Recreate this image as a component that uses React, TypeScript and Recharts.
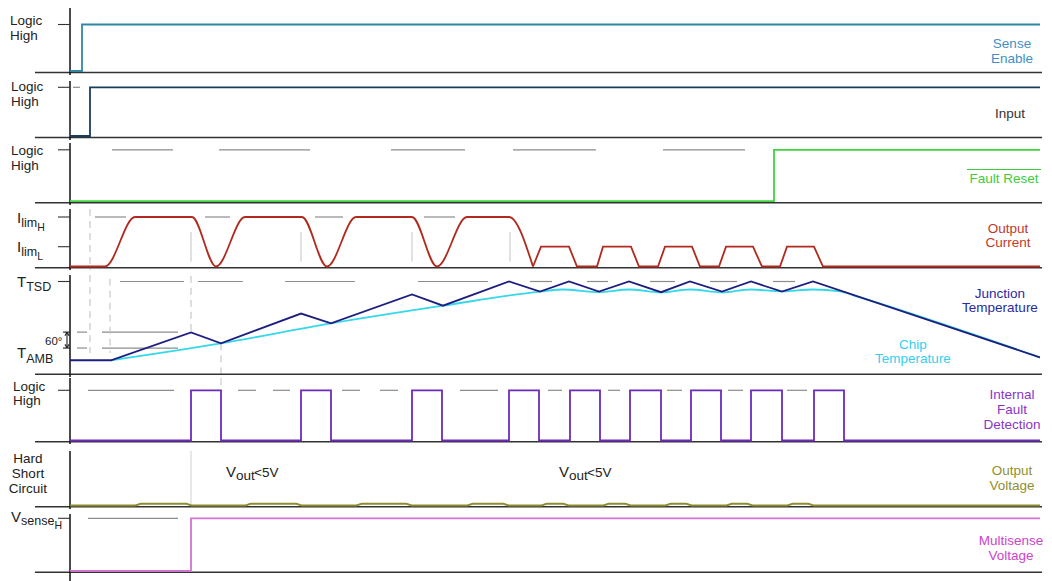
import React from 'react';
import { LineChart, Line, XAxis, YAxis, ReferenceLine } from 'recharts';

// ---------- data (time axis: t units, 0 = switch-on) ----------
const senseEnable = [{ t: 0, v: 0 }, { t: 12, v: 0 }, { t: 12, v: 1 }, { t: 970, v: 1 }];
const inputSig = [{ t: 0, v: 0 }, { t: 20, v: 0 }, { t: 20, v: 1 }, { t: 970, v: 1 }];
const faultReset = [{ t: 0, v: 0 }, { t: 704, v: 0 }, { t: 704, v: 1 }, { t: 970, v: 1 }];

const ILIM_H = 1;
const ILIM_L = 0.4;
const currentLimitH = [
  { t: 0, v: 0 }, { t: 35, v: 0 }, { t: 65, v: 1 }, { t: 122, v: 1 }, { t: 146, v: 0 },
  { t: 175, v: 1 }, { t: 232, v: 1 }, { t: 257, v: 0 }, { t: 286, v: 1 }, { t: 342, v: 1 },
  { t: 367, v: 0 }, { t: 397, v: 1 }, { t: 439, v: 1 }, { t: 463, v: 0 },
];
const currentLimitL = [
  { t: 463, v: 0 }, { t: 471, v: 0.4 }, { t: 499, v: 0.4 }, { t: 507, v: 0 }, { t: 527, v: 0 },
  { t: 533, v: 0.4 }, { t: 561, v: 0.4 }, { t: 569, v: 0 }, { t: 588, v: 0 }, { t: 595, v: 0.4 },
  { t: 622, v: 0.4 }, { t: 630, v: 0 }, { t: 649, v: 0 }, { t: 656, v: 0.4 }, { t: 683, v: 0.4 },
  { t: 692, v: 0 }, { t: 710, v: 0 }, { t: 717, v: 0.4 }, { t: 744, v: 0.4 }, { t: 753, v: 0 },
  { t: 970, v: 0 },
];

const T_TSD = 165;
const T_AMB = 25;
const junctionTemp = [
  { t: 0, v: 25 }, { t: 41, v: 25 }, { t: 121, v: 74.5 }, { t: 151, v: 55 }, { t: 231, v: 108 },
  { t: 261, v: 90.5 }, { t: 342, v: 142 }, { t: 373, v: 122 }, { t: 439, v: 165 }, { t: 470, v: 147 },
  { t: 499, v: 165 }, { t: 529, v: 147 }, { t: 559, v: 165 }, { t: 591, v: 146 }, { t: 620, v: 165 },
  { t: 652, v: 147 }, { t: 681, v: 165 }, { t: 712, v: 147 }, { t: 743, v: 165 }, { t: 970, v: 30 },
];
const chipTemp = [
  { t: 41, v: 25 }, { t: 151, v: 55 }, { t: 261, v: 90.5 }, { t: 373, v: 122 }, { t: 470, v: 147 },
  { t: 493, v: 150.8 }, { t: 529, v: 146 }, { t: 559, v: 150.8 }, { t: 591, v: 145.5 }, { t: 620, v: 150.8 },
  { t: 652, v: 145.5 }, { t: 681, v: 150.8 }, { t: 712, v: 147.3 }, { t: 743, v: 150.8 }, { t: 770, v: 147.3 },
  { t: 790, v: 136.6 }, { t: 970, v: 30 },
];

const faultRise = [121, 231, 342, 439, 500, 560, 621, 681, 744];
const faultFall = [151, 261, 372, 469, 530, 591, 651, 712, 774];

const VOUT_SHORT = 0.035;
const voutStart = [65, 175, 286, 397, 471, 533, 595, 656, 717];
const voutEnd = [122, 232, 342, 439, 499, 561, 622, 683, 744];

const multisense = [{ t: 0, v: 0 }, { t: 121, v: 0 }, { t: 121, v: 1 }, { t: 970, v: 1 }];

// tables built from the arrays above
const faultDetection = (() => {
  const out = [{ t: 0, v: 0 }];
  faultRise.forEach((r, i) => {
    out.push({ t: r, v: 0 }, { t: r, v: 1 }, { t: faultFall[i], v: 1 }, { t: faultFall[i], v: 0 });
  });
  out.push({ t: 970, v: 0 });
  return out;
})();
const outputVoltage = (() => {
  const out = [{ t: 0, v: 0 }];
  voutStart.forEach((s, i) => {
    const e = voutEnd[i];
    out.push({ t: s, v: 0 }, { t: s + 6, v: VOUT_SHORT }, { t: e - 6, v: VOUT_SHORT }, { t: e, v: 0 });
  });
  out.push({ t: 970, v: 0 });
  return out;
})();

// ---------- layout ----------
const W = 1052;
const T_MIN = -70;
const T_MAX = 970;
const FONT = '"Liberation Sans", Arial, Helvetica, sans-serif';
const FS = 13.5;
const GRAY = '#8c8c8c';

type Cfg = { top: number; bottom: number; zeroPx: number; highPx: number; highVal: number; blackPx: number };
type Guide = { x: number; y1: number; y2: number; dashed?: boolean; color?: string };
type Dash = { y: number; segs: number[][] };

const P: Record<string, Cfg> = {
  se: { top: 8, bottom: 75, zeroPx: 71, highPx: 24.5, highVal: 1, blackPx: 72.5 },
  inp: { top: 81, bottom: 140, zeroPx: 136, highPx: 87.3, highVal: 1, blackPx: 137.5 },
  fr: { top: 143, bottom: 205, zeroPx: 201.2, highPx: 149.8, highVal: 1, blackPx: 202.7 },
  oc: { top: 209, bottom: 270, zeroPx: 266.5, highPx: 217, highVal: ILIM_H, blackPx: 267.8 },
  tj: { top: 275, bottom: 377, zeroPx: 374.3, highPx: 281.5, highVal: T_TSD, blackPx: 374.3 },
  fd: { top: 378, bottom: 444, zeroPx: 440.5, highPx: 390.3, highVal: 1, blackPx: 441.8 },
  ov: { top: 451, bottom: 509, zeroPx: 505.5, highPx: 455.5, highVal: 1, blackPx: 506.8 },
  ms: { top: 514, bottom: 581, zeroPx: 570.8, highPx: 518.3, highVal: 1, blackPx: 572.3 },
};

function Panel({ cfg, ticks, dashes = [], guides = [], extra = [], children }: {
  cfg: Cfg; ticks: number[]; dashes?: Dash[]; guides?: Guide[]; extra?: { a: number[]; b: number[]; color?: string }[]; children?: React.ReactNode;
}) {
  const k = cfg.highVal / (cfg.zeroPx - cfg.highPx);
  const lo = -(cfg.bottom - cfg.zeroPx) * k;
  const hi = (cfg.zeroPx - cfg.top) * k;
  const base = -(cfg.blackPx - cfg.zeroPx) * k;
  const clamp = (y: number) => Math.max(lo, Math.min(hi, y));
  const els: React.ReactNode[] = [];
  dashes.forEach((d, i) =>
    d.segs.forEach(([a, b], j) =>
      els.push(
        <ReferenceLine key={`d${i}-${j}`} segment={[{ x: a, y: d.y }, { x: b, y: d.y }]} stroke={GRAY} strokeWidth={1.2} ifOverflow="visible" />,
      ),
    ),
  );
  guides.forEach((g, i) =>
    els.push(
      <ReferenceLine key={`g${i}`} segment={[{ x: g.x, y: clamp(g.y1) }, { x: g.x, y: clamp(g.y2) }]} stroke={g.color || '#c4c4c4'} strokeWidth={1} strokeDasharray={g.dashed ? '7 5' : undefined} ifOverflow="visible" />,
    ),
  );
  extra.forEach((e, i) =>
    els.push(
      <ReferenceLine key={`e${i}`} segment={[{ x: e.a[0], y: e.a[1] }, { x: e.b[0], y: e.b[1] }]} stroke={e.color || '#222'} strokeWidth={1.1} ifOverflow="visible" />,
    ),
  );
  els.push(<ReferenceLine key="base" segment={[{ x: -35, y: base }, { x: 972, y: base }]} stroke="#333" strokeWidth={1.6} ifOverflow="visible" />);
  els.push(<ReferenceLine key="axis" segment={[{ x: 0, y: lo }, { x: 0, y: hi }]} stroke="#111" strokeWidth={1.5} ifOverflow="visible" />);
  ticks.forEach((tv, i) =>
    els.push(<ReferenceLine key={`t${i}`} segment={[{ x: -12, y: tv }, { x: 0, y: tv }]} stroke="#333" strokeWidth={1.1} ifOverflow="visible" />),
  );
  return (
    <div style={{ position: 'absolute', left: 0, top: cfg.top }}>
      <LineChart width={W} height={cfg.bottom - cfg.top} margin={{ top: 0, right: 12, bottom: 0, left: 0 }}>
        <XAxis type="number" dataKey="t" domain={[T_MIN, T_MAX]} hide allowDataOverflow />
        <YAxis type="number" domain={[lo, hi]} hide allowDataOverflow />
        {els}
        {children}
      </LineChart>
    </div>
  );
}

function Txt({ x, y, lines, color = '#222', align = 'left', size = FS, lh = 15, overline = false }: {
  x: number; y: number; lines: string[]; color?: string; align?: 'left' | 'center'; size?: number; lh?: number; overline?: boolean;
}) {
  const style: React.CSSProperties = {
    position: 'absolute', top: y - lh / 2, fontFamily: FONT, fontSize: size, lineHeight: lh + 'px', color,
    whiteSpace: 'nowrap', textAlign: align,
  };
  if (align === 'center') { style.left = x - 100; style.width = 200; } else { style.left = x; }
  return (
    <div style={style}>
      {lines.map((l, i) => (
        <div key={i}>
          {overline ? <span style={{ borderTop: `1.5px solid ${color}`, paddingTop: 1, paddingLeft: 2, paddingRight: 2 }}>{l}</span> : l}
        </div>
      ))}
    </div>
  );
}

function Sub({ x, y, main, sub, subsub, size = 15, sub1 = 12.5, sub2 = 10.5, d1 = 4, d2 = 8 }: {
  x: number; y: number; main: string; sub: string; subsub?: string; size?: number; sub1?: number; sub2?: number; d1?: number; d2?: number;
}) {
  return (
    <div style={{ position: 'absolute', left: x, top: y - 9, fontFamily: FONT, fontSize: size, lineHeight: '17px', color: '#222', whiteSpace: 'nowrap' }}>
      <span>{main}</span>
      <span style={{ fontSize: sub1, position: 'relative', top: d1 }}>{sub}</span>
      {subsub ? <span style={{ fontSize: sub2, position: 'relative', top: d2 }}>{subsub}</span> : null}
    </div>
  );
}

const lineProps = { type: 'linear' as const, dataKey: 'v', dot: false, isAnimationActive: false, strokeWidth: 1.8 };

export default function App() {
  return (
    <div style={{ position: 'fixed', left: 0, top: 0, width: W, height: 581, background: '#fff', overflow: 'hidden' }}>
      <Panel cfg={P.se} ticks={[1]}>
        <Line {...lineProps} data={senseEnable} stroke="#2f88a3" />
      </Panel>
      <Panel cfg={P.inp} ticks={[1]} dashes={[{ y: 1, segs: [[3, 10]] }]}>
        <Line {...lineProps} data={inputSig} stroke="#1b3d5c" />
      </Panel>
      <Panel cfg={P.fr} ticks={[1]} dashes={[{ y: 1, segs: [[42, 103], [149, 240], [321, 395], [443, 526], [593, 675]] }]}>
        <Line {...lineProps} data={faultReset} stroke="#3fd43f" />
      </Panel>
      <Panel
        cfg={P.oc}
        ticks={[ILIM_H, ILIM_L]}
        dashes={[{ y: ILIM_H, segs: [[25, 56], [135, 160], [245, 273], [354, 385]] }]}
        guides={[
          { x: 20, y1: 99, y2: -99, dashed: true, color: '#bdbdbd' },
          { x: 121, y1: 0.7, y2: 0.1 },
          { x: 231, y1: 0.7, y2: 0.1 },
          { x: 342, y1: 0.7, y2: 0.1 },
          { x: 440, y1: 0.7, y2: 0.1 },
        ]}
      >
        <Line {...lineProps} type="monotone" data={currentLimitH} stroke="#b02a1e" />
        <Line {...lineProps} data={currentLimitL} stroke="#b02a1e" />
      </Panel>
      <Panel
        cfg={P.tj}
        ticks={[T_TSD]}
        dashes={[
          { y: T_TSD, segs: [[50, 114], [128, 173], [215, 285], [348, 418], [460, 482], [517, 538], [580, 605], [640, 667], [703, 725]] },
          { y: 75, segs: [[7, 17], [32, 108]] },
          { y: 46.7, segs: [[7, 17], [32, 108]] },
        ]}
        guides={[
          { x: 20, y1: 999, y2: 38, dashed: true, color: '#bdbdbd' },
          { x: 40, y1: 170, y2: 38, dashed: true, color: '#bdbdbd' },
          { x: 121, y1: 175, y2: 75, dashed: true, color: '#bdbdbd' },
          { x: 151, y1: 55, y2: -999, dashed: true, color: '#bdbdbd' },
        ]}
        extra={[
          { a: [-3, 75], b: [-3, 46.7] },
          { a: [-7, 75], b: [0, 75] },
          { a: [-7, 46.7], b: [0, 46.7] },
          { a: [-3, 75], b: [-5, 68.5] },
          { a: [-3, 75], b: [-1, 68.5] },
          { a: [-3, 46.7], b: [-5, 53.2] },
          { a: [-3, 46.7], b: [-1, 53.2] },
        ]}
      >
        <Line {...lineProps} type="monotone" data={chipTemp} stroke="#34d8ea" />
        <Line {...lineProps} data={junctionTemp} stroke="#1e1e80" />
      </Panel>
      <Panel
        cfg={P.fd}
        ticks={[1]}
        dashes={[{ y: 1, segs: [[18, 104], [168, 186], [203, 220], [272, 290], [310, 328], [390, 428], [478, 492], [538, 550], [597, 612], [658, 673], [717, 737]] }]}
        guides={[{ x: 151, y1: 999, y2: 1.1 }]}
      >
        <Line {...lineProps} data={faultDetection} stroke="#6d2bbb" />
      </Panel>
      <Panel cfg={P.ov} ticks={[]} guides={[{ x: 121, y1: 999, y2: 0.02, color: '#d0d0d0' }]}>
        <Line {...lineProps} type="monotone" data={outputVoltage} stroke="#8c8c2e" strokeWidth={2} />
      </Panel>
      <Panel cfg={P.ms} ticks={[1]} dashes={[{ y: 1, segs: [[18, 108]] }]}>
        <Line {...lineProps} data={multisense} stroke="#d472d4" />
      </Panel>

      {/* left labels */}
      <Txt x={10} y={20} lines={['Logic', 'High']} />
      <Txt x={11} y={86} lines={['Logic', 'High']} />
      <Txt x={11} y={150} lines={['Logic', 'High']} />
      <Sub x={17} y={218} main="I" sub="lim" subsub="H" />
      <Sub x={17} y={247} main="I" sub="lim" subsub="L" />
      <Sub x={17} y={282} main="T" sub="TSD" sub1={12.5} d1={4} />
      <Sub x={17} y={353} main="T" sub="AMB" sub1={12.5} d1={5} />
      <Txt x={45} y={341} lines={['60°']} size={11.5} lh={13} />
      <Txt x={13} y={387} lines={['Logic', 'High']} lh={14.5} />
      <Txt x={28} y={458} lines={['Hard', 'Short', 'Circuit']} align="center" lh={15} />
      <Sub x={11} y={517} main="V" sub="sense" subsub="H" size={15} sub1={12.5} sub2={10.5} d1={3} d2={7} />
      <Sub x={226} y={472} main="V" sub="out" size={15} sub1={13.5} d1={3} />
      <Txt x={254} y={472} lines={['<5V']} />
      <Sub x={559} y={472} main="V" sub="out" size={15} sub1={13.5} d1={3} />
      <Txt x={587} y={472} lines={['<5V']} />

      {/* right labels */}
      <Txt x={1012} y={43} lines={['Sense', 'Enable']} align="center" color="#3f8fc8" lh={15} />
      <Txt x={1010} y={113} lines={['Input']} align="center" color="#333" />
      <Txt x={1004} y={178} lines={['Fault Reset']} align="center" color="#3ccc3c" overline />
      <Txt x={1008} y={229} lines={['Output', 'Current']} align="center" color="#c0392b" lh={14.5} />
      <Txt x={1000} y={294} lines={['Junction', 'Temperature']} align="center" color="#2a2aa0" lh={14.5} />
      <Txt x={913} y={345} lines={['Chip', 'Temperature']} align="center" color="#33cfee" lh={14.5} />
      <Txt x={1012} y={394.5} lines={['Internal', 'Fault', 'Detection']} align="center" color="#8a35c8" lh={15} />
      <Txt x={1012} y={470} lines={['Output', 'Voltage']} align="center" color="#8f8f30" lh={15} />
      <Txt x={1011} y={540} lines={['Multisense', 'Voltage']} align="center" color="#cc44cc" lh={15} />
    </div>
  );
}
